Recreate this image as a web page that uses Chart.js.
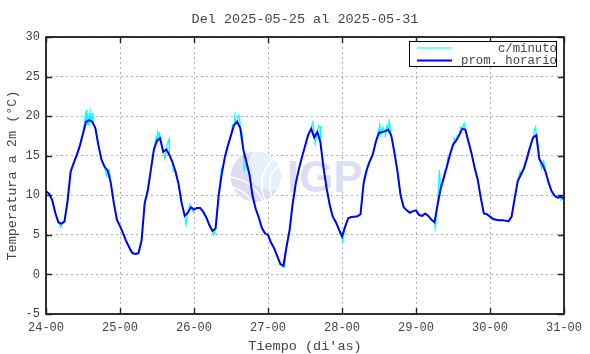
<!DOCTYPE html>
<html>
<head>
<meta charset="utf-8">
<script src="https://cdn.jsdelivr.net/npm/chart.js@4.4.1/dist/chart.umd.min.js"></script>
<style>
  html, body { margin: 0; padding: 0; background: #fff; }
  #wrap { width: 590px; height: 354px; }
</style>
</head>
<body>
<div id="wrap"><canvas id="c" width="590" height="354"></canvas></div>
<script>
// ---- data ----
const chartTitle = 'Del 2025-05-25 al 2025-05-31';
const xTitle = "Tiempo (di'as)";
const yTitle = 'Temperatura a 2m (°C)';
const seriesLabels = ['c/minuto', 'prom. horario'];
const startDay = 24;
const dayTickLabels = ['24-00','25-00','26-00','27-00','28-00','29-00','30-00','31-00'];
const yMin = -5, yMax = 30, yStep = 5;

// hourly mean temperature, one value per hour from 24-00 to 31-00
const hourlyTemps = [
  10.5,10.2,9.4,7.8,6.6,6.4,6.7,9.3,13.0,14.1,15.1,16.3,17.8,19.3,19.5,19.3,18.5,16.3,14.5,13.6,13.1,11.6,9.0,6.9,
  6.1,5.2,4.2,3.4,2.7,2.6,2.7,4.3,9.0,10.6,13.2,15.8,16.9,17.2,15.5,15.8,15.1,14.2,13.0,11.4,9.0,7.4,7.8,8.5,
  8.2,8.4,8.4,7.9,7.2,6.2,5.5,5.8,10.0,12.7,14.8,16.3,17.6,18.9,19.3,18.5,15.8,14.2,12.6,9.9,8.3,7.2,5.9,5.2,
  5.0,4.0,3.3,2.3,1.3,1.1,3.5,5.6,8.9,11.5,13.3,14.8,16.2,17.6,18.4,17.3,18.0,16.7,13.5,10.9,8.8,7.3,6.6,5.7,
  4.8,6.0,7.1,7.25,7.3,7.35,7.6,11.5,13.2,14.3,15.2,16.8,17.9,18.0,18.1,18.3,17.5,15.4,13.0,10.0,8.5,8.1,7.8,8.0,
  8.1,7.5,7.4,7.7,7.4,6.9,6.6,8.8,10.9,12.2,13.6,15.1,16.4,16.9,17.6,18.4,18.3,16.8,15.3,13.5,12.0,9.7,7.7,7.6,
  7.3,7.0,6.9,6.85,6.85,6.8,6.7,7.3,9.6,11.8,12.6,13.4,14.7,16.1,17.3,17.6,14.6,13.9,13.0,11.6,10.5,9.9,9.7,9.8,9.6
];

// per-minute excursions visible in the cyan trace (hour since 24-00, value)
const spikeHours = [
  4.7,11.5,12.6,12.9,13.2,13.4,13.6,13.9,14.3,14.6,15.0,15.3,19.6,20.5,27.2,
  35.7,36.2,36.5,36.8,38.6,39.2,39.9,40.5,41.3,45.4,46.6,47.8,
  53.2,54.4,56.9,60.5,61.2,61.7,62.4,62.8,63.6,64.3,72.2,73.3,76.8,77.4,
  86.2,86.6,87.0,87.3,88.4,88.9,95.4,96.2,
  103.3,104.6,107.8,108.2,108.6,109.3,110.0,110.6,111.3,111.8,126.2,
  127.6,128.0,129.2,130.3,132.3,133.4,134.5,135.6,136.1,
  153.7,156.2,157.5,158.4,158.8,159.2,160.7,161.4,167.0
];
const spikeTemps = [
  6.0,17.2,19.6,20.6,20.85,19.0,20.3,18.8,20.5,19.2,20.4,19.0,12.5,13.2,3.0,
  17.4,18.2,16.8,18.0,14.6,16.3,17.1,14.9,13.0,6.3,8.9,7.9,
  6.0,4.95,13.5,18.9,20.0,19.1,20.1,19.8,17.8,13.2,4.6,3.9,0.9,1.0,
  18.9,19.3,17.5,16.5,18.8,18.7,5.0,4.1,
  12.5,14.2,18.2,19.2,17.6,18.6,17.3,18.8,19.4,18.0,5.8,
  13.2,10.5,13.0,14.8,17.2,17.6,18.6,19.1,18.2,
  13.0,15.4,17.0,18.3,18.65,17.7,13.4,14.3,9.4
];

const colors = { minute: '#00ffff', hourly: '#0000ff' };
const monoFont = "'Liberation Mono', 'DejaVu Sans Mono', monospace";
const textColor = '#444';

// ---- build datasets ----
const hourlyPoints = hourlyTemps.map((v, i) => ({ x: startDay + i / 24, y: v }));
const minutePoints = hourlyPoints.concat(
  spikeHours.map((h, i) => ({ x: startDay + h / 24, y: spikeTemps[i] }))
).sort((a, b) => a.x - b.x);

// ---- plugins ----
const watermark = {
  id: 'watermark',
  beforeDatasetsDraw(chart) {
    const ctx = chart.ctx;
    const cx = 255.7, cy = 176.7, r = 25;
    ctx.save();
    ctx.beginPath(); ctx.arc(cx, cy, r, 0, Math.PI * 2); ctx.closePath();
    ctx.fillStyle = '#dcddf2'; ctx.fill();
    ctx.clip();
    ctx.beginPath(); ctx.arc(cx + 16, cy - 10, 24, 0, Math.PI * 2);
    ctx.fillStyle = '#e6f1fc'; ctx.fill();
    ctx.strokeStyle = '#ffffff'; ctx.lineWidth = 1.5;
    [[cx + 40, cy + 8, 34], [cx + 40, cy + 8, 26], [cx - 30, cy + 40, 40], [cx - 30, cy + 40, 30]].forEach(a => {
      ctx.beginPath(); ctx.arc(a[0], a[1], a[2], 0, Math.PI * 2); ctx.stroke();
    });
    ctx.restore();
    ctx.save();
    ctx.fillStyle = '#dedef2';
    ctx.font = "bold 44px 'Liberation Sans', Arial, sans-serif";
    ctx.textBaseline = 'alphabetic';
    ctx.textAlign = 'left';
    ctx.fillText('IGP', 287, 192);
    ctx.restore();
  }
};

const frameAndText = {
  id: 'frameAndText',
  afterDraw(chart) {
    const ctx = chart.ctx;
    const a = chart.chartArea;
    const xs = chart.scales.x, ys = chart.scales.y;
    ctx.save();
    // frame
    ctx.strokeStyle = '#000'; ctx.lineWidth = 1.6;
    ctx.strokeRect(a.left, a.top, a.right - a.left, a.bottom - a.top);
    // inward ticks on all four sides
    ctx.strokeStyle = '#222'; ctx.lineWidth = 1.4;
    const tl = 6;
    xs.ticks.forEach(t => {
      const px = Math.round(xs.getPixelForValue(t.value)) + 0.5;
      ctx.beginPath();
      ctx.moveTo(px, a.bottom); ctx.lineTo(px, a.bottom - tl);
      ctx.moveTo(px, a.top); ctx.lineTo(px, a.top + tl);
      ctx.stroke();
    });
    ys.ticks.forEach(t => {
      const py = Math.round(ys.getPixelForValue(t.value)) + 0.5;
      ctx.beginPath();
      ctx.moveTo(a.left, py); ctx.lineTo(a.left + tl, py);
      ctx.moveTo(a.right, py); ctx.lineTo(a.right - tl, py);
      ctx.stroke();
    });
    // titles
    ctx.fillStyle = textColor;
    ctx.font = '13.5px ' + monoFont;
    ctx.textAlign = 'center'; ctx.textBaseline = 'middle';
    ctx.fillText(chartTitle, (a.left + a.right) / 2, 19);
    ctx.fillText(xTitle, (a.left + a.right) / 2, 346);
    ctx.save();
    ctx.translate(12, (a.top + a.bottom) / 2);
    ctx.rotate(-Math.PI / 2);
    ctx.fillText(yTitle, 0, 0);
    ctx.restore();
    // legend box
    const bx = 409.5, by = 41.5, bw = 147, bh = 25;
    ctx.fillStyle = '#fff';
    ctx.fillRect(bx, by, bw, bh);
    ctx.strokeStyle = '#000'; ctx.lineWidth = 1;
    ctx.strokeRect(bx, by, bw, bh);
    const rows = [
      { label: seriesLabels[0], color: colors.minute, w: 1, y: 48 },
      { label: seriesLabels[1], color: colors.hourly, w: 2, y: 60.5 }
    ];
    ctx.font = '12.3px ' + monoFont;
    ctx.textAlign = 'right';
    rows.forEach(r => {
      ctx.strokeStyle = r.color; ctx.lineWidth = r.w;
      ctx.beginPath(); ctx.moveTo(417, r.y); ctx.lineTo(452, r.y); ctx.stroke();
      ctx.fillStyle = textColor;
      ctx.fillText(r.label, 557, r.y + 0.5);
    });
    ctx.restore();
  }
};

new Chart(document.getElementById('c'), {
  type: 'line',
  data: {
    datasets: [
      {
        label: seriesLabels[1], data: hourlyPoints, borderColor: colors.hourly,
        borderWidth: 2, pointRadius: 0, tension: 0, order: 0
      },
      {
        label: seriesLabels[0], data: minutePoints, borderColor: colors.minute,
        borderWidth: 1.2, pointRadius: 0, tension: 0, order: 1
      }
    ]
  },
  options: {
    responsive: false,
    animation: false,
    events: [],
    layout: { padding: { left: 0, right: 26, top: 37, bottom: 0 } },
    plugins: { legend: { display: false }, title: { display: false }, tooltip: { enabled: false } },
    scales: {
      x: {
        type: 'linear', min: startDay, max: startDay + dayTickLabels.length - 1,
        afterFit: s => { s.height = 40; },
        ticks: {
          stepSize: 1, autoSkip: false, maxRotation: 0, padding: 7,
          color: textColor, font: { family: monoFont, size: 12 },
          callback: v => dayTickLabels[Math.round(v - startDay)]
        },
        grid: { color: '#b0b0b0', lineWidth: 1, drawTicks: false },
        border: { display: false, dash: [2, 3] }
      },
      y: {
        min: yMin, max: yMax,
        afterFit: s => { s.width = 46; },
        ticks: {
          stepSize: yStep, padding: 6,
          color: textColor, font: { family: monoFont, size: 12 }
        },
        grid: { color: '#b0b0b0', lineWidth: 1, drawTicks: false },
        border: { display: false, dash: [2, 3] }
      }
    }
  },
  plugins: [watermark, frameAndText]
});
</script>
</body>
</html>
